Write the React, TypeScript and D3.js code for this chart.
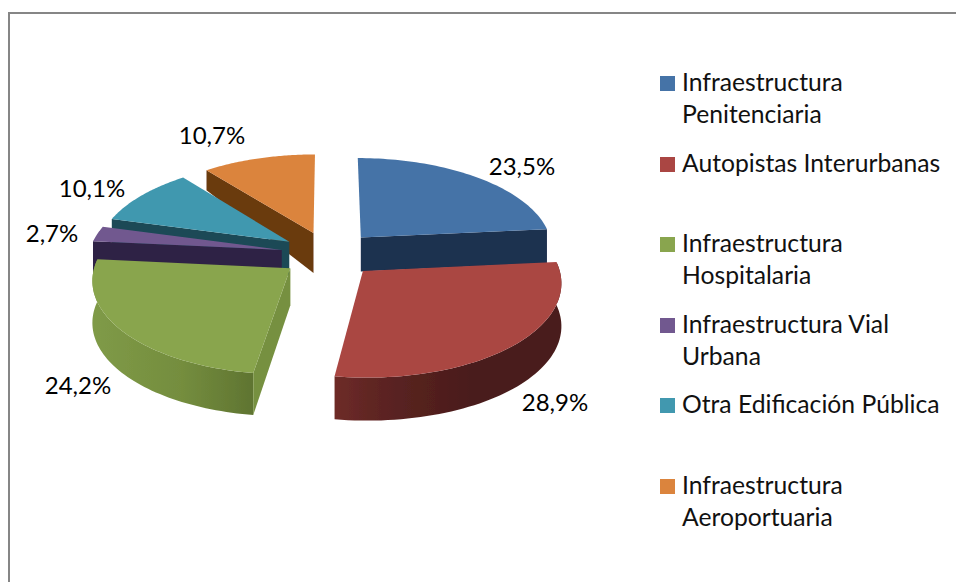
import React from "react";
import * as d3 from "d3";

// ---- data ----
const categories = [
  ["Infraestructura", "Penitenciaria"],
  ["Autopistas Interurbanas"],
  ["Infraestructura", "Hospitalaria"],
  ["Infraestructura Vial", "Urbana"],
  ["Otra Edificación Pública"],
  ["Infraestructura", "Aeroportuaria"],
];
const values = [23.5, 28.9, 24.2, 2.7, 10.1, 10.7];
const topColors = ["#4573a7", "#aa4643", "#89a54e", "#71588f", "#4198af", "#db843d"];
const sideColors = ["#1c304f", "#6a2a27", "#76903f", "#2f2245", "#1a4a57", "#6b3a10"];

// ---- layout ----
const W = 956, H = 582;
const cx = 329, cy = 254, radiusX = 193, radiusY = 91.3, persp = 0.108, explode = 0.25;
const apexDepth = [34, 43, 37, 34, 34, 40];
const rimDepth = [34, 43, 42, 34, 34, 20];
const drawOrder = [5, 4, 3, 2, 0, 1];
const labelPos: [number, number][] = [[522, 175], [555, 411], [78, 394], [52, 242], [92, 197], [212, 144]];
const legendY = [90.5, 171.5, 251.5, 332.5, 412.5, 493.5];
const legendX = 660, swatch = 15, lineGap = 32.6;
const FONT = "Lato, 'Open Sans', sans-serif";

const project = (a: number, r: number, mid: number): [number, number] => {
  const X = r * Math.sin(a) + explode * Math.sin(mid);
  const Z = r * Math.cos(a) + explode * Math.cos(mid);
  const f = 1 / (1 + persp * Z);
  return [cx + radiusX * X * f, cy - radiusY * Z * f];
};

const arcs = d3.pie<number>().sort(null)(values);
const line = d3.line();

export default function App() {
  const slices = drawOrder.map((i) => {
    const { startAngle: a0, endAngle: a1 } = arcs[i];
    const mid = (a0 + a1) / 2;
    const angles = d3.range(0, 61).map((k) => a0 + ((a1 - a0) * k) / 60);
    const rim = angles.map((a) => project(a, 1, mid));
    const apex = project(0, 0, mid);
    const down = (p: [number, number], d: number): [number, number] => [p[0], p[1] + d];
    const top = line([apex, ...rim])! + "Z";
    const outer = line([...rim, ...rim.map((p) => down(p, rimDepth[i])).reverse()])! + "Z";
    const wallStart = line([apex, rim[0], down(rim[0], rimDepth[i]), down(apex, apexDepth[i])])! + "Z";
    const wallEnd = line([apex, rim[60], down(rim[60], rimDepth[i]), down(apex, apexDepth[i])])! + "Z";
    return { i, top, outer, wallStart, wallEnd };
  });

  return (
    <svg
      width={W}
      height={H}
      viewBox={`0 0 ${W} ${H}`}
      style={{ position: "fixed", left: 0, top: 0, display: "block", background: "#fff" }}
    >
      <defs>
        <linearGradient id="redWall" gradientUnits="userSpaceOnUse" x1="334" x2="470" y1="0" y2="0">
          <stop offset="0" stopColor="#6e2b28" />
          <stop offset="0.35" stopColor="#5c2422" />
          <stop offset="1" stopColor="#4a1c1a" />
        </linearGradient>
        <linearGradient id="greenWall" gradientUnits="userSpaceOnUse" x1="95" x2="254" y1="0" y2="0">
          <stop offset="0" stopColor="#7f9a47" />
          <stop offset="0.55" stopColor="#748d3e" />
          <stop offset="1" stopColor="#5f7431" />
        </linearGradient>
        <filter id="soft" x="-5%" y="-5%" width="110%" height="110%">
          <feGaussianBlur stdDeviation="0.5" />
        </filter>
      </defs>
      <rect x={8} y={12} width={W - 8} height={2} fill="#868686" />
      <rect x={8} y={12} width={2} height={H - 12} fill="#868686" />

      <g filter="url(#soft)">
        {slices.map(({ i, top, outer, wallStart, wallEnd }) => {
          const wall = i === 1 ? "url(#redWall)" : i === 2 ? "url(#greenWall)" : sideColors[i];
          return (
            <g key={i}>
              {i === 1 || i === 2 ? <path d={outer} fill={wall} /> : null}
              {i >= 2 ? <path d={wallStart} fill={sideColors[i]} /> : null}
              {i === 0 ? <path d={wallEnd} fill={sideColors[i]} /> : null}
              <path d={top} fill={topColors[i]} />
            </g>
          );
        })}
      </g>

      {values.map((v, i) => (
        <text
          key={i}
          x={labelPos[i][0]}
          y={labelPos[i][1]}
          textAnchor="middle"
          fontFamily={FONT}
          fontSize={24}
          fill="#000"
        >
          {d3.format(".1f")(v).replace(".", ",")}%
        </text>
      ))}

      {categories.map((lines, i) => (
        <g key={i}>
          <rect x={legendX} y={Math.round(legendY[i]) - swatch} width={swatch} height={swatch} fill={topColors[i]} />
          {lines.map((t, k) => (
            <text
              key={k}
              x={legendX + 22}
              y={legendY[i] + k * lineGap}
              fontFamily={FONT}
              fontSize={24.7}
              fill="#111"
            >
              {t}
            </text>
          ))}
        </g>
      ))}
    </svg>
  );
}
